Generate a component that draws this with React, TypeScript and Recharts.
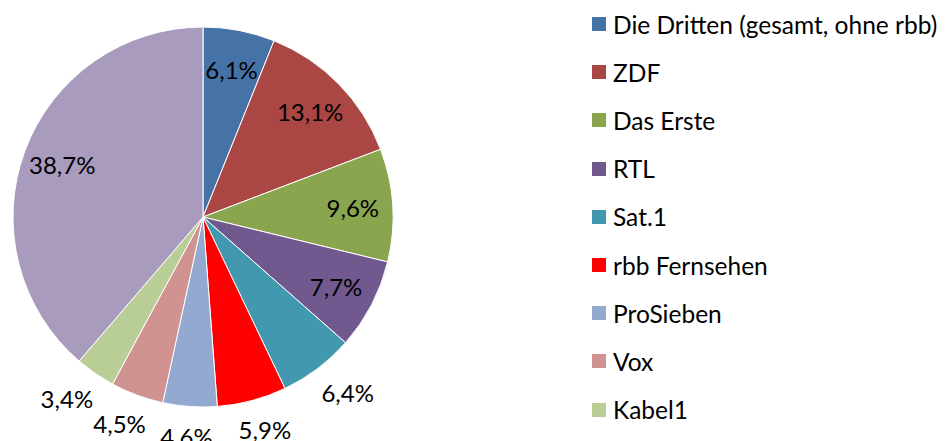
import { Cell, Legend, Pie, PieChart } from "recharts";

const channels = [
  "Die Dritten (gesamt, ohne rbb)",
  "ZDF",
  "Das Erste",
  "RTL",
  "Sat.1",
  "rbb Fernsehen",
  "ProSieben",
  "Vox",
  "Kabel1",
  "Sonstige",
];
const shares = [6.1, 13.1, 9.6, 7.7, 6.4, 5.9, 4.6, 4.5, 3.4, 38.7];
const colors = [
  "#4572A7",
  "#AA4643",
  "#89A54E",
  "#71588F",
  "#4198AF",
  "#FF0000",
  "#93A9CF",
  "#D19392",
  "#B9CD96",
  "#A99BBD",
];
// the legend in the original only lists the first nine entries
const legendCount = 9;

const data = channels.map((name, i) => ({ name, value: shares[i] }));

const RAD = Math.PI / 180;
const FONT = "Lato, 'Open Sans', sans-serif";

const renderLabel = (props: any) => {
  const { cx, cy, outerRadius, midAngle, value } = props;
  const cos = Math.cos(-midAngle * RAD);
  const sin = Math.sin(-midAngle * RAD);
  // small slices in the lower half get their label outside the pie
  const outside = value < 7 && sin > 0;
  let x: number;
  let y: number;
  if (outside) {
    const r = outerRadius + 22;
    x = cx + r * cos + 28 * cos;
    y = cy + r * sin + 8 * sin;
  } else {
    const r = outerRadius * 0.79;
    x = cx + r * cos;
    y = cy + r * sin;
  }
  return (
    <text
      x={x}
      y={y}
      fill="#000"
      textAnchor="middle"
      dominantBaseline="central"
      fontSize={24}
      fontFamily={FONT}
    >
      {value.toFixed(1).replace(".", ",")}%
    </text>
  );
};

const renderLegend = () => (
  <div style={{ fontFamily: FONT, fontSize: 24.5, color: "#000" }}>
    {channels.slice(0, legendCount).map((name, i) => (
      <div
        key={name}
        style={{ height: 48.2, display: "flex", alignItems: "center" }}
      >
        <span
          style={{
            width: 14,
            height: 14,
            background: colors[i],
            marginRight: 7,
            display: "inline-block",
            flexShrink: 0,
          }}
        />
        <span style={{ whiteSpace: "nowrap" }}>{name}</span>
      </div>
    ))}
  </div>
);

export default function App() {
  return (
    <div style={{ position: "absolute", left: 0, top: 0, background: "#fff" }}>
      <PieChart width={946} height={441} margin={{ top: 0, right: 0, bottom: 0, left: 0 }}>
        <Pie
          data={data}
          dataKey="value"
          nameKey="name"
          cx={203}
          cy={217}
          outerRadius={190}
          startAngle={90}
          endAngle={-270}
          stroke="#fff"
          strokeWidth={1}
          label={renderLabel}
          labelLine={false}
          isAnimationActive={false}
        >
          {data.map((d, i) => (
            <Cell key={d.name} fill={colors[i]} />
          ))}
        </Pie>
        <Legend
          content={renderLegend}
          layout="vertical"
          verticalAlign="top"
          align="right"
          wrapperStyle={{ left: 592, top: 0, right: "auto", width: 354 }}
        />
      </PieChart>
    </div>
  );
}
